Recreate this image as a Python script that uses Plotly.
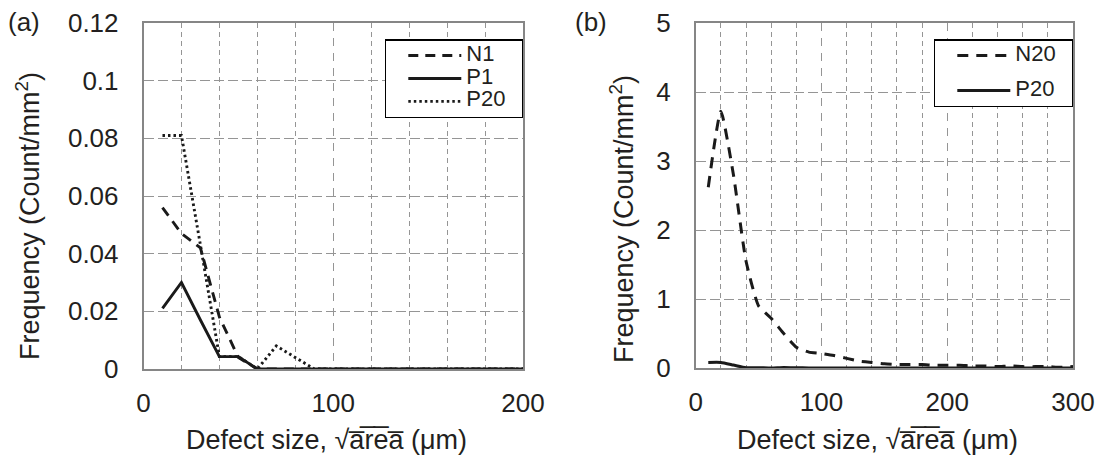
import plotly.graph_objects as go

# ---------------- data ----------------
x_a = [10, 20, 30, 40, 50, 60, 70, 80, 90, 100, 110, 120, 130, 140, 150, 160, 170, 180, 190, 200]
n1 = [0.056, 0.047, 0.042, 0.018, 0.004, 0, 0, 0, 0, 0, 0, 0, 0, 0, 0, 0, 0, 0, 0, 0]
p1 = [0.021, 0.030, 0.017, 0.0043, 0.0043, 0, 0, 0, 0, 0, 0, 0, 0, 0, 0, 0, 0, 0, 0, 0]
p20_a = [0.081, 0.081, 0.043, 0.0043, 0.0043, 0, 0.008, 0.004, 0, 0, 0, 0, 0, 0, 0, 0, 0, 0, 0, 0]

x_b = [10, 20, 30, 40, 50, 60, 70, 80, 90, 100, 110, 120, 130, 140, 150,
       160, 170, 180, 190, 200, 210, 220, 230, 240, 250, 260, 270, 280, 290, 300]
n20 = [2.62, 3.72, 2.80, 1.55, 0.90, 0.72, 0.50, 0.30, 0.23, 0.21, 0.18, 0.14, 0.10, 0.08, 0.06,
       0.05, 0.05, 0.05, 0.04, 0.04, 0.04, 0.03, 0.03, 0.02, 0.03, 0.02, 0.02, 0.02, 0.01, 0.02]
p20_b = [0.081, 0.081, 0.043, 0.0043, 0.0043, 0, 0.008, 0.004, 0, 0, 0, 0, 0, 0, 0,
         0, 0, 0, 0, 0, 0, 0, 0, 0, 0, 0, 0, 0, 0, 0]

ya_ticks = [0, 0.02, 0.04, 0.06, 0.08, 0.1, 0.12]
ya_text = ["0", "0.02", "0.04", "0.06", "0.08", "0.1", "0.12"]
yb_ticks = [0, 1, 2, 3, 4, 5]
xa_ticks = [0, 100, 200]
xb_ticks = [0, 100, 200, 300]
xa_minor = [20, 40, 60, 80, 120, 140, 160, 180]
xb_minor = [20, 40, 60, 80, 120, 140, 160, 180, 220, 240, 260, 280]

# ---------------- style ----------------
FONT = "Liberation Sans, Arial, sans-serif"
TXT = "#231f20"
LINE = "#1a1a1a"
GRID = "#959595"
FRAME = "#868686"
TICK_SIZE = 26
TITLE_SIZE = 27
LEG_TXT = 22
NB = "\u00a0"
LW = 2.9


def lname(s):
    return '<span style="font-size:%dpx">%s</span>%s' % (LEG_TXT, s, NB * 3)


fig = go.Figure()
fig.add_trace(go.Scatter(x=x_a, y=n1, mode="lines", name=lname("N1"),
                         line=dict(color=LINE, width=LW, dash="10px,7px"),
                         xaxis="x", yaxis="y", legend="legend", legendgroup="a1"))
fig.add_trace(go.Scatter(x=x_a, y=p1, mode="lines", name=lname("P1"),
                         line=dict(color=LINE, width=LW),
                         xaxis="x", yaxis="y", legend="legend", legendgroup="a2"))
fig.add_trace(go.Scatter(x=x_a, y=p20_a, mode="lines", name=lname("P20"),
                         line=dict(color=LINE, width=LW, dash="2.5px,3px"),
                         xaxis="x", yaxis="y", legend="legend", legendgroup="a3"))
fig.add_trace(go.Scatter(x=x_b, y=n20, mode="lines", name=lname("N20"),
                         line=dict(color=LINE, width=3, dash="11px,8px", shape="spline", smoothing=0.5),
                         xaxis="x2", yaxis="y2", legend="legend2", legendgroup="b1"))
fig.add_trace(go.Scatter(x=x_b, y=p20_b, mode="lines", name=lname("P20"),
                         line=dict(color=LINE, width=3, shape="spline", smoothing=0.5),
                         xaxis="x2", yaxis="y2", legend="legend2", legendgroup="b2"))

W, H = 1100, 456
xa_dom = [143.5 / W, 523 / W]
xb_dom = [695.7 / W, 1073 / W]
ya_dom = [(H - 369) / H, (H - 23) / H]
yb_dom = [(H - 368) / H, (H - 23) / H]

common_x = dict(showline=True, linecolor=FRAME, linewidth=1.5, mirror=True, ticks="",
                showgrid=True, gridcolor=GRID, gridwidth=1, griddash="8px,7px",
                zeroline=False, tickfont=dict(size=TICK_SIZE, color=TXT, family=FONT),
                ticklabelstandoff=10, automargin=False)
common_y = dict(showline=True, linecolor=FRAME, linewidth=1.5, mirror=True, ticks="",
                showgrid=True, gridcolor=GRID, gridwidth=1, griddash="10px,4px",
                zeroline=False, tickfont=dict(size=TICK_SIZE, color=TXT, family=FONT),
                ticklabelstandoff=18, automargin=False)

leg_common = dict(xanchor="right", y=(H - 39.3) / H, yanchor="top",
                  bgcolor="white", bordercolor="black", borderwidth=1.3,
                  font=dict(size=13, family=FONT, color=TXT), itemwidth=53,
                  indentation=17)

fig.update_layout(
    width=W, height=H, margin=dict(l=0, r=0, t=0, b=0, autoexpand=False),
    paper_bgcolor="white", plot_bgcolor="white",
    font=dict(family=FONT, color=TXT),
    xaxis=dict(domain=xa_dom, range=[0, 200], tickmode="array", tickvals=xa_ticks, anchor="y",
               minor=dict(tickvals=xa_minor, showgrid=True, gridcolor=GRID, gridwidth=1,
                          griddash="5px,4px"), **common_x),
    yaxis=dict(domain=ya_dom, range=[0, 0.12], tickmode="array", tickvals=ya_ticks,
               ticktext=ya_text, anchor="x", **common_y),
    xaxis2=dict(domain=xb_dom, range=[0, 300], tickmode="array", tickvals=xb_ticks, anchor="y2",
                minor=dict(tickvals=xb_minor, showgrid=True, gridcolor=GRID, gridwidth=1,
                           griddash="5px,4px"), **common_x),
    yaxis2=dict(domain=yb_dom, range=[0, 5], tickmode="array", tickvals=yb_ticks,
                anchor="x2", **common_y),
    legend=dict(x=xa_dom[1], tracegroupgap=3, **leg_common),
    legend2=dict(x=xb_dom[1], tracegroupgap=15, **leg_common),
    showlegend=True,
)

OL = "\u0305"
xt = "Defect size, √a" + OL + "r" + OL + "e" + OL + "a" + OL + " (μm)"
yt = "Frequency (Count/mm<sup>2</sup>)"
ann = [
    dict(text="(a)", x=23.5 / W, y=(H - 22) / H, size=TICK_SIZE),
    dict(text="(b)", x=591 / W, y=(H - 22) / H, size=TICK_SIZE),
    dict(text=yt, x=28 / W, y=(H - 216) / H, textangle=-90, size=TITLE_SIZE),
    dict(text=yt, x=622 / W, y=(H - 219) / H, textangle=-90, size=TITLE_SIZE),
    dict(text=xt, x=326 / W, y=(H - 440) / H, size=TITLE_SIZE),
    dict(text=xt, x=877 / W, y=(H - 440) / H, size=TITLE_SIZE),
]
for a in ann:
    sz = a.pop("size")
    fig.add_annotation(xref="paper", yref="paper", showarrow=False,
                       xanchor="center", yanchor="middle",
                       font=dict(size=sz, color=TXT, family=FONT), **a)

fig.write_html("out.html")
